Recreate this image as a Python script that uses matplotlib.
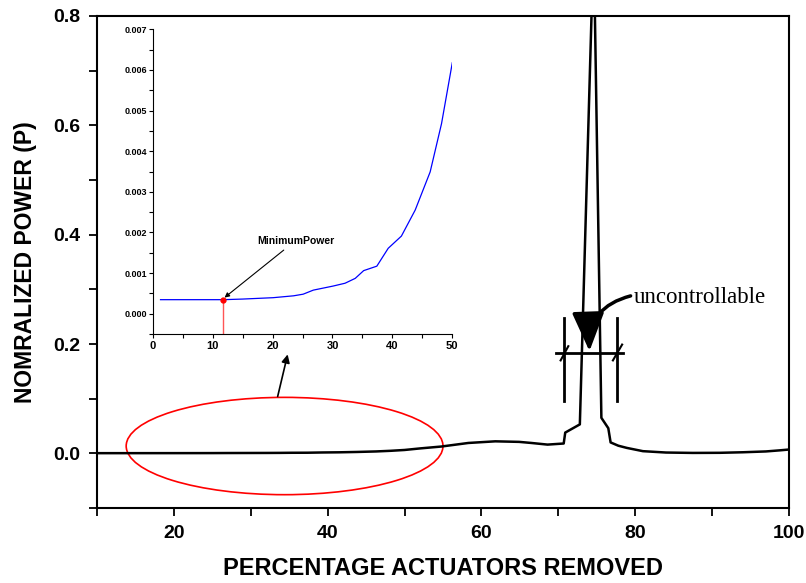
import numpy as np
import matplotlib
matplotlib.use("Agg")
import matplotlib.pyplot as plt
from matplotlib.patches import Ellipse

plt.rcParams.update({"font.family": "Liberation Sans", "font.weight": "bold"})

# low-power region (also shown in the inset)
inset_x = [1.3, 5, 11.8, 15, 20.1, 23.5, 25.1, 26.8, 30.1, 32.1, 33.8, 35.2,
           37.4, 39.3, 41.5, 43.8, 46.3, 48.2, 50.0]
inset_p = [0.000345, 0.000345, 0.000345, 0.00036, 0.000394, 0.00044, 0.00048,
           0.00058, 0.00068, 0.00075, 0.00087, 0.00106, 0.00117, 0.00161,
           0.00191, 0.00255, 0.00349, 0.00468, 0.00618]
# rest of the sweep
main_x = [52, 54.8, 58.3, 61.8, 64.9, 66.5, 68.6, 70.7, 70.9, 72.8, 74.6,
          75.6, 76.5, 76.8, 77.8, 78.9, 81, 84, 87.5, 91, 94, 97, 98.8, 100]
main_p = [0.009, 0.0125, 0.019, 0.022, 0.021, 0.019, 0.016, 0.018, 0.038,
          0.053, 0.94, 0.065, 0.046, 0.020, 0.014, 0.010, 0.004, 0.0015,
          0.0008, 0.001, 0.002, 0.0035, 0.0055, 0.007]
min_x, min_p = 11.8, 0.000345

x_all = inset_x + main_x
p_all = inset_p + main_p

fig = plt.figure(figsize=(8.06, 5.83), dpi=100)
ax = fig.add_axes([0.1203, 0.1286, 0.8586, 0.844])
ax.plot(x_all, p_all, color="black", lw=1.8)
ax.set_xlim(10, 100)
ax.set_ylim(-0.1, 0.8)
ax.set_xticks(np.arange(10, 101, 10))
ax.set_xticklabels(["" if v % 20 else str(v) for v in range(10, 101, 10)])
yt = np.round(np.arange(-0.1, 0.81, 0.1), 1)
ax.set_yticks(yt)
ax.set_yticklabels([f"{v:.1f}" if round(v * 10) % 2 == 0 and v >= 0 else "" for v in yt])
ax.tick_params(direction="out", length=6, width=1.3, labelsize=14, pad=6)
for s in ax.spines.values():
    s.set_linewidth(1.5)
ax.set_xlabel("PERCENTAGE ACTUATORS REMOVED", fontsize=17, fontweight="bold", labelpad=11)
ax.set_ylabel("NOMRALIZED POWER (P)", fontsize=16.5, fontweight="bold", labelpad=12)

# highlighted low-power region
ax.add_patch(Ellipse((34.4, 0.0134), 41.2, 0.178, fill=False, ec="red", lw=1.2))
ax.annotate("", xy=(34.8, 0.181), xytext=(33.5, 0.104),
            arrowprops=dict(arrowstyle="-|>", color="black", lw=1.2,
                            mutation_scale=12, shrinkA=0, shrinkB=0))

# uncontrollable band
ax.plot([69.74, 78.46], [0.183, 0.183], color="black", lw=2)
ax.plot([70.74, 70.74], [0.0954, 0.248], color="black", lw=2)
ax.plot([77.62, 77.62], [0.0954, 0.248], color="black", lw=2)
ax.plot([70.3, 71.3], [0.170, 0.196], color="black", lw=1.5)
ax.plot([77.1, 78.3], [0.170, 0.199], color="black", lw=1.5)
ax.annotate("", xy=(74.05, 0.187), xytext=(79.4, 0.288),
            arrowprops=dict(arrowstyle="-|>,head_length=1.2,head_width=0.5",
                            connectionstyle="arc3,rad=0.4", color="black",
                            lw=2.5, mutation_scale=20, shrinkA=0, shrinkB=0))
ax.text(79.8, 0.285, "uncontrollable", fontsize=16.5, fontfamily="Liberation Serif",
        fontweight="normal", va="center", ha="left")

# inset
ins = fig.add_axes([0.1895, 0.4271, 0.3717, 0.5226])
ins.plot(inset_x, inset_p, color="blue", lw=0.9)
ins.plot([min_x, min_x], [-0.0005, min_p], color="#ff5555", lw=1.0)
ins.plot([min_x], [min_p], "o", color="red", ms=3.5)
ins.annotate("MinimumPower", xy=(min_x, min_p + 0.00003), xytext=(17.4, 0.0018),
             fontsize=7.5, fontweight="bold", va="center",
             arrowprops=dict(arrowstyle="-|>", color="black", lw=0.8,
                             mutation_scale=7, shrinkA=2, shrinkB=1))
ins.set_xlim(0, 50)
ins.set_ylim(-0.0005, 0.007)
ins.spines["top"].set_visible(False)
ins.spines["right"].set_visible(False)
ins.set_xticks(np.arange(0, 51, 10))
ins.set_xticks(np.arange(0, 51, 5), minor=True)
ins.set_yticks(np.arange(0, 0.0071, 0.001))
ins.set_yticks(np.arange(-0.0005, 0.0071, 0.0005), minor=True)
ins.set_yticklabels([f"{v:.3f}" for v in np.arange(0, 0.0071, 0.001)])
ins.tick_params(which="both", direction="out", length=3, width=0.8)
ins.tick_params(axis="x", labelsize=8, pad=2)
ins.tick_params(axis="y", labelsize=6.5, pad=1)

fig.savefig("out.png", dpi=100)
